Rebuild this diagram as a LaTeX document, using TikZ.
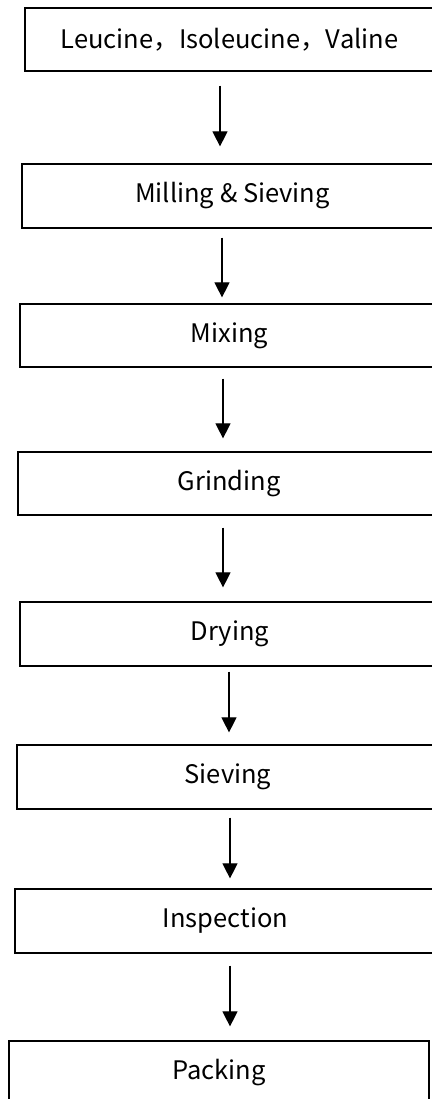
\documentclass[tikz,border=0pt]{standalone}
\usepackage{fontspec}
\setmainfont{Noto Sans CJK SC}
\usetikzlibrary{positioning,arrows.meta}

\tikzset{
    stepbox/.style={rectangle,draw,line width=1.2pt,inner sep=0pt,
        font=\fontsize{25.5}{30}\selectfont},
    flow/.style={line width=1.1pt,-{Triangle[width=15pt,length=15pt]}}
}

\begin{document}
\begin{tikzpicture}[x=1pt,y=-1pt]
    \useasboundingbox (0,0) rectangle (431,1099);

    \node[stepbox,minimum width=409pt,minimum height=63pt] (lcn) at (229.5,39.5) {Leucine，Isoleucine，Valine};
    \node[stepbox,minimum width=421pt,minimum height=64pt] (mill) at (232.5,196) {Milling \& Sieving};
    \node[stepbox,minimum width=419pt,minimum height=63pt] (mix) at (229.5,335.5) {Mixing};
    \node[stepbox,minimum width=422pt,minimum height=63pt] (grind) at (229,483.5) {Grinding};
    \node[stepbox,minimum width=420pt,minimum height=64pt] (dry) at (230,634) {Drying};
    \node[stepbox,minimum width=422pt,minimum height=64pt] (sieve) at (228,777) {Sieving};
    \node[stepbox,minimum width=421pt,minimum height=64pt] (insp) at (225.5,921) {Inspection};
    \node[stepbox,minimum width=420pt,minimum height=64pt] (pack) at (219,1073) {Packing};

    \draw[flow] ([xshift=-9.5pt,yshift=-14pt]lcn.south) -- ([xshift=-12.5pt,yshift=17pt]mill.north);
    \draw[flow] ([xshift=-10.5pt,yshift=-9pt]mill.south) -- ([xshift=-7.5pt,yshift=6pt]mix.north);
    \draw[flow] ([xshift=-6.5pt,yshift=-11pt]mix.south) -- ([xshift=-6pt,yshift=13pt]grind.north);
    \draw[flow] ([xshift=-6pt,yshift=-12pt]grind.south) -- ([xshift=-7pt,yshift=14pt]dry.north);
    \draw[flow] ([xshift=-1pt,yshift=-5pt]dry.south) -- ([xshift=1pt,yshift=12pt]sieve.north);
    \draw[flow] ([xshift=2pt,yshift=-8pt]sieve.south) -- ([xshift=4.5pt,yshift=10pt]insp.north);
    \draw[flow] ([xshift=4.5pt,yshift=-12pt]insp.south) -- ([xshift=11pt,yshift=14pt]pack.north);

\end{tikzpicture}
\end{document}
